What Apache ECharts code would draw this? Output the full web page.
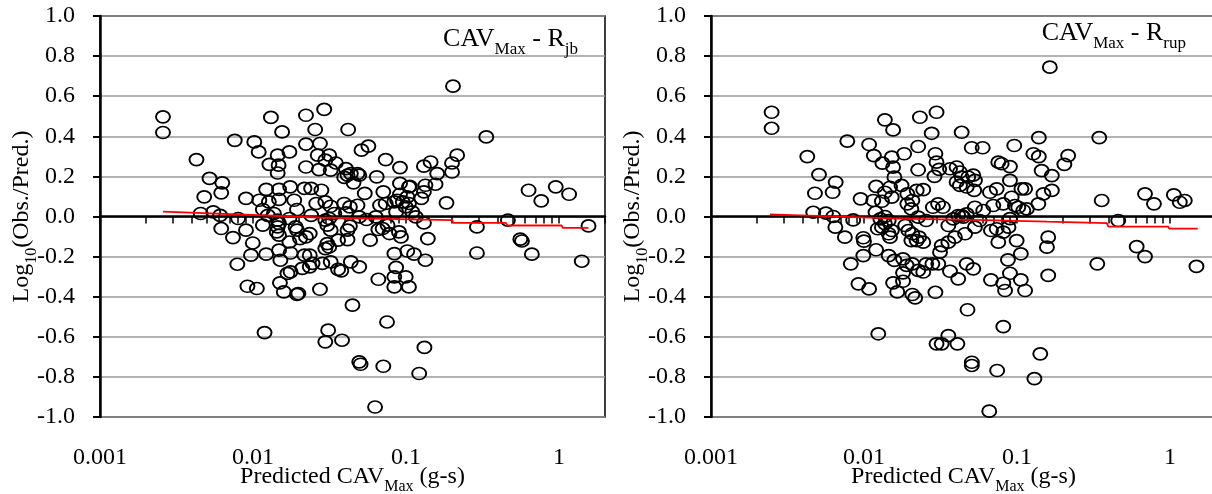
<!DOCTYPE html>
<html>
<head>
<meta charset="utf-8">
<script src="https://cdn.jsdelivr.net/npm/echarts@6/dist/echarts.min.js"></script>
<style>
html,body{margin:0;padding:0;background:#fff;}
#chart{width:1212px;height:494px;}
</style>
</head>
<body>
<div id="chart"></div>
<script>
// ---- data ----
const jbX = [0.00258,0.00258,0.00427,0.0052,0.0048,0.0063,0.0062,0.00455,0.0055,0.0061,0.0062,0.0076,0.009,0.008,0.0074,0.009,0.0102,0.0109,0.0131,0.0155,
0.0173,0.0128,0.0145,0.0147,0.0145,0.0222,0.0255,0.0222,0.0222,0.0122,0.0148,0.0175,0.0217,0.024,0.011,0.0127,0.0148,0.0186,0.0194,0.0259,
0.0116,0.0125,0.0137,0.0145,0.0148,0.0145,0.0143,0.0148,0.0116,0.0173,0.0194,0.024,0.0235,0.0203,0.00997,0.0097,0.0079,0.0092,0.0106,0.0119,
0.0292,0.0274,0.0265,0.027,0.0297,0.028,0.0297,0.019,0.0222,0.0297,0.0173,0.0148,0.0122,0.0151,0.0176,0.0217,0.0235,0.021,0.0235,0.0245,
0.0284,0.0168,0.0176,0.015,0.0159,0.0194,0.0198,0.0274,0.031,0.0297,0.203,0.0419,0.0512,0.0568,0.0315,0.0348,0.0322,0.0405,0.0415,0.0395,
0.0436,0.0482,0.0495,0.0454,0.0322,0.0395,0.043,0.0405,0.0482,0.0495,0.034,0.0315,0.0306,0.0322,0.043,0.0415,0.036,0.0306,0.0297,0.0315,
0.0415,0.0583,0.0644,0.0737,0.0914,0.0538,0.0711,0.0677,0.0737,0.0839,0.0862,0.0635,0.0552,0.066,0.0704,0.0758,0.078,0.09,0.0928,0.084,
0.0862,0.0839,0.066,0.0839,0.0996,0.1046,0.102,0.113,0.134,0.139,0.131,0.0914,0.1046,0.106,0.0914,0.0876,0.0953,0.102,0.1046,0.0996,
0.11,0.116,0.126,0.131,0.134,0.131,0.145,0.16,0.156,0.2,0.216,0.2,0.184,0.0447,0.0752,0.0382,0.132,0.0495,0.0505,0.0711,
0.122,0.291,0.291,0.335,0.633,0.766,0.953,1.165,0.464,1.56,0.559,0.573,0.665,1.41,0.0628,0.0322,0.036,0.0378,0.0436,0.0495];
const jbY = [0.497,0.419,0.284,0.19,0.098,0.168,0.118,0.015,0.023,0.006,-0.06,0.38,0.09,-0.01,-0.105,-0.068,0.372,0.322,0.494,0.422,
0.322,0.26,0.306,0.256,0.217,0.505,0.434,0.361,0.247,0.135,0.135,0.148,0.14,0.14,0.081,0.073,0.085,0.081,0.035,0.065,
0.035,0.006,0.015,-0.018,-0.035,-0.052,-0.077,-0.093,-0.043,-0.01,-0.068,0.006,-0.085,-0.11,-0.132,-0.193,-0.238,-0.348,-0.359,-0.579,
0.534,0.364,0.306,0.234,0.281,0.131,0.073,-0.052,-0.102,-0.018,-0.127,-0.168,-0.188,-0.218,-0.182,-0.193,-0.193,-0.259,-0.251,-0.234,
-0.234,-0.284,-0.276,-0.331,-0.376,-0.388,-0.384,-0.363,-0.567,-0.625,0.65,0.434,0.331,0.351,0.306,0.267,0.231,0.239,0.206,0.195,
0.214,0.214,0.206,0.168,0.051,0.065,0.048,0.018,0.056,-0.002,0.015,-0.01,-0.043,-0.068,-0.048,-0.068,-0.118,-0.135,-0.16,-0.152,
-0.115,-0.118,0.198,0.284,0.244,0.115,0.123,0.056,0.065,0.073,0.023,-0.002,-0.015,-0.065,-0.06,-0.043,-0.085,-0.077,-0.102,-0.185,
-0.254,-0.301,-0.313,-0.351,-0.301,-0.351,-0.172,-0.188,-0.218,-0.11,-0.032,0.165,0.148,0.151,0.111,0.081,0.073,0.098,0.065,0.048,
0.023,-0.002,0.09,0.123,0.156,0.251,0.272,0.214,0.161,0.267,0.306,0.222,0.068,-0.442,-0.526,-0.617,-0.653,-0.725,-0.737,-0.747,
-0.783,-0.052,-0.182,0.397,0.131,0.078,0.148,0.111,-0.018,-0.047,-0.113,-0.122,-0.188,-0.223,-0.95,-0.226,-0.264,-0.271,-0.226,-0.251];

const rupX = [0.00249,0.00249,0.00426,0.00508,0.00478,0.00653,0.00624,0.00466,0.00564,0.0063,0.0065,0.0075,0.00778,0.0085,0.0095,0.0099,0.01,0.0108,0.0116,0.0137,
0.0155,0.0132,0.0152,0.0155,0.0158,0.0183,0.0232,0.0226,0.0226,0.012,0.0148,0.0152,0.0176,0.0192,0.0221,0.0115,0.0131,0.0137,0.0192,0.0204,
0.0207,0.0119,0.0128,0.0137,0.0123,0.0131,0.0137,0.0152,0.0145,0.0148,0.0226,0.0195,0.0207,0.0221,0.0099,0.0082,0.0092,0.0108,0.0124,0.0277,
0.0298,0.0293,0.0298,0.0289,0.0244,0.0282,0.0305,0.0145,0.0186,0.0229,0.0204,0.0244,0.0255,0.012,0.0145,0.0158,0.018,0.019,0.0207,0.0226,
0.0244,0.0255,0.028,0.018,0.018,0.0155,0.0165,0.0207,0.0216,0.0293,0.0298,0.164,0.0435,0.0506,0.0597,0.096,0.139,0.128,0.139,0.216,
0.204,0.145,0.169,0.0755,0.0794,0.09,0.09,0.0365,0.0403,0.0424,0.0435,0.0403,0.0424,0.048,0.0469,0.0518,0.0531,0.0525,0.0328,0.0435,
0.0469,0.0531,0.0602,0.0666,0.0737,0.07,0.0814,0.0923,0.097,0.107,0.113,0.102,0.11,0.116,0.138,0.149,0.169,0.0356,0.0383,0.0413,
0.0446,0.0393,0.0356,0.0322,0.0314,0.0306,0.0458,0.0531,0.0676,0.0737,0.0755,0.0814,0.088,0.0995,0.106,0.0873,0.09,0.0676,0.0814,0.0836,
0.106,0.113,0.0469,0.0518,0.0365,0.0413,0.0475,0.0814,0.0356,0.0322,0.0408,0.0507,0.0507,0.0742,0.13,0.142,0.16,0.157,0.16,0.345,
0.358,0.687,0.786,1.06,1.16,1.25,0.459,0.606,0.687,0.335,1.49,0.0659,0.031,0.09,0.057];
const rupY = [0.52,0.44,0.299,0.209,0.116,0.171,0.121,0.021,0.017,0.0,-0.053,-0.103,0.376,-0.017,0.088,-0.106,-0.123,0.359,0.304,0.482,
0.432,0.266,0.296,0.246,0.196,0.313,0.495,0.349,0.233,0.15,0.146,0.097,0.155,0.113,0.13,0.08,0.076,0.121,0.063,0.038,
0.08,0.021,-0.012,0.0,-0.061,-0.053,-0.036,-0.07,-0.086,-0.103,-0.003,-0.07,-0.086,-0.12,-0.195,-0.236,-0.336,-0.361,-0.585,0.415,
0.52,0.313,0.271,0.2,0.134,0.046,0.063,-0.02,-0.045,-0.103,-0.12,-0.128,-0.02,-0.166,-0.195,-0.219,-0.211,-0.244,-0.236,-0.269,
-0.277,-0.236,-0.236,-0.281,-0.323,-0.331,-0.376,-0.389,-0.406,-0.378,-0.635,0.745,0.42,0.343,0.343,0.354,0.393,0.313,0.299,0.304,
0.26,0.229,0.204,0.271,0.263,0.249,0.18,0.238,0.247,0.222,0.197,0.172,0.155,0.197,0.147,0.206,0.18,0.13,0.046,0.005,
0.013,0.046,0.03,0.121,0.138,0.055,0.063,0.096,0.055,0.138,0.138,0.046,0.03,0.038,0.063,0.113,0.13,-0.045,-0.012,0.005,
-0.003,-0.103,-0.128,-0.145,-0.178,-0.236,-0.086,-0.053,-0.07,-0.061,-0.128,-0.078,-0.053,-0.12,-0.186,-0.216,-0.283,-0.316,-0.333,-0.369,
-0.316,-0.369,-0.236,-0.261,-0.273,-0.311,-0.465,-0.549,-0.594,-0.635,-0.635,-0.727,-0.743,-0.768,-0.809,-0.685,-0.103,-0.153,-0.294,0.393,
0.08,0.113,0.063,0.108,0.071,0.08,-0.02,-0.15,-0.2,-0.236,-0.249,-0.971,0.235,-0.011,-0.02];

const trendJbX = [0.00258,0.0271,0.09,0.092,0.2,0.204,0.45,0.46,1.04,1.06,1.56];
const trendJbY = [0.024,-0.005,-0.013,-0.018,-0.018,-0.032,-0.032,-0.045,-0.045,-0.057,-0.057];
const trendRupX = [0.00243,0.0172,0.063,0.064,0.157,0.16,0.387,0.395,0.97,0.99,1.52];
const trendRupY = [0.011,-0.011,-0.018,-0.025,-0.026,-0.033,-0.033,-0.05,-0.05,-0.06,-0.06];

const xLabelValues = [0.001, 0.01, 0.1, 1];
const xTickValues = [0.001,0.002,0.003,0.004,0.005,0.006,0.007,0.008,0.009,
  0.01,0.02,0.03,0.04,0.05,0.06,0.07,0.08,0.09,
  0.1,0.2,0.3,0.4,0.5,0.6,0.7,0.8,0.9,1,2];

// ---- chart ----
const FONT = 'Liberation Serif';
const zip = (xs, ys) => xs.map((x, i) => [x, ys[i]]);

const nameRich = {
  n: {fontFamily: FONT, fontSize: 24, fontWeight: 'normal', color: '#000', lineHeight: 30, verticalAlign: 'top'},
  s: {fontFamily: FONT, fontSize: 16, fontWeight: 'normal', color: '#000', lineHeight: 16, verticalAlign: 'bottom'}
};
const titleRich = {
  m: {fontFamily: FONT, fontSize: 26, fontWeight: 'normal', color: '#000', lineHeight: 32, verticalAlign: 'top'},
  s: {fontFamily: FONT, fontSize: 17, fontWeight: 'normal', color: '#000', lineHeight: 17, verticalAlign: 'bottom'}
};

function xAxisCfg(idx) {
  return {
    type: 'log', logBase: 10, gridIndex: idx, min: 0.001, max: 2,
    name: '{n|Predicted CAV}{s|Max}{n|\u00a0(g-s)}',
    nameLocation: 'middle', nameGap: 48, nameMoveOverlap: false,
    nameTextStyle: {rich: nameRich},
    axisLine: {show: true, lineStyle: {color: '#000', width: 2.5}},
    axisTick: {show: true, inside: false, length: 7, lineStyle: {color: '#000', width: 1.5}, customValues: xTickValues},
    axisLabel: {show: true, customValues: xLabelValues, margin: 29, fontFamily: FONT, fontSize: 24, color: '#000',
      formatter: v => String(v)},
    splitLine: {show: false},
    minorTick: {show: false}
  };
}
function yAxisCfg(idx) {
  return {
    type: 'value', gridIndex: idx, min: -1, max: 1, interval: 0.2,
    name: '{n|Log}{s|10}{n|(Obs./Pred.)}',
    nameLocation: 'middle', nameGap: 60, nameRotate: 90, nameMoveOverlap: false,
    nameTextStyle: {rich: nameRich},
    axisLine: {show: true, lineStyle: {color: '#000', width: 2.5}},
    axisTick: {show: true, inside: false, length: 7, lineStyle: {color: '#000', width: 2}},
    axisLabel: {margin: 25, fontFamily: FONT, fontSize: 24, color: '#000', formatter: v => v.toFixed(1)},
    splitLine: {show: true, lineStyle: {color: '#999', width: 1.6}}
  };
}
function scatter(idx, data) {
  return {
    type: 'scatter', xAxisIndex: idx, yAxisIndex: idx, data: data,
    symbol: 'circle', symbolSize: [14, 12],
    itemStyle: {color: 'rgba(0,0,0,0)', borderColor: '#000', borderWidth: 1.8, opacity: 1},
    emphasis: {disabled: true}, z: 3
  };
}
function trend(idx, data) {
  return {
    type: 'line', xAxisIndex: idx, yAxisIndex: idx, data: data,
    showSymbol: false, symbol: 'none',
    lineStyle: {color: '#ff0000', width: 1.8}, z: 4
  };
}

const chart = echarts.init(document.getElementById('chart'), null, {renderer: 'canvas'});
chart.setOption({
  animation: false,
  backgroundColor: '#fff',
  title: [
    {text: '{m|CAV}{s|Max}{m| - R}{s|jb}', right: 634, top: 26, padding: 0,
     textStyle: {fontWeight: 'normal', fontFamily: FONT, rich: titleRich}},
    {text: '{m|CAV}{s|Max}{m| - R}{s|rup}', right: 26, top: 20, padding: 0,
     textStyle: {fontWeight: 'normal', fontFamily: FONT, rich: titleRich}}
  ],
  grid: [
    {left: 100, top: 16, width: 505, height: 401, show: true, borderColor: '#000', borderWidth: 1.5,
     containLabel: false, outerBoundsMode: 'none'},
    {left: 711, top: 16, width: 505, height: 401, show: true, borderColor: '#000', borderWidth: 1.5,
     containLabel: false, outerBoundsMode: 'none'}
  ],
  xAxis: [xAxisCfg(0), xAxisCfg(1)],
  yAxis: [yAxisCfg(0), yAxisCfg(1)],
  series: [
    scatter(0, zip(jbX, jbY)),
    trend(0, zip(trendJbX, trendJbY)),
    scatter(1, zip(rupX, rupY)),
    trend(1, zip(trendRupX, trendRupY))
  ]
});
</script>
</body>
</html>
